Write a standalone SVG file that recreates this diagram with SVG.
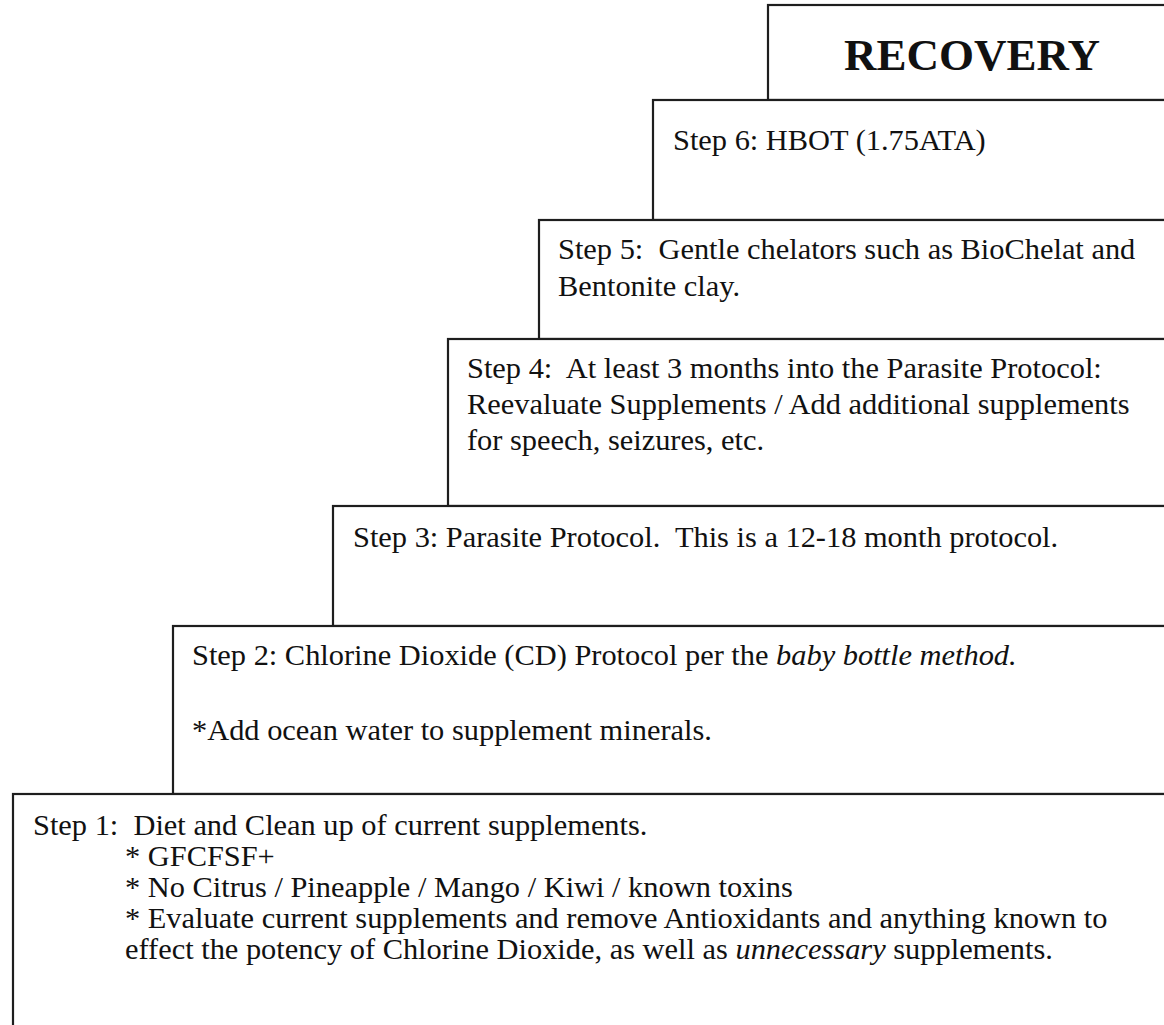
<svg xmlns="http://www.w3.org/2000/svg" width="1164" height="1025" viewBox="0 0 1164 1025">
<style>
.box{fill:#fff;stroke:#1e1e1e;stroke-width:2.2}
.t{font-family:"Liberation Serif","Times New Roman",serif;font-size:30.4px;fill:#111}
.h{font-family:"Liberation Serif","Times New Roman",serif;font-size:45px;font-weight:bold;fill:#111}
.i{font-style:italic}
</style>
<rect x="0" y="0" width="1164" height="1025" fill="#fff"/>
<g id="recovery">
<rect class="box" x="768" y="5" width="420" height="95"/>
<text class="h" x="972" y="70" text-anchor="middle">RECOVERY</text>
</g>
<g id="step6">
<rect class="box" x="653" y="100" width="540" height="120"/>
<text class="t" x="673" y="150">Step 6: HBOT (1.75ATA)</text>
</g>
<g id="step5">
<rect class="box" x="539" y="220" width="660" height="119"/>
<text class="t" x="558" y="259" xml:space="preserve">Step 5:  Gentle chelators such as BioChelat and</text>
<text class="t" x="558" y="296">Bentonite clay.</text>
</g>
<g id="step4">
<rect class="box" x="448" y="339" width="750" height="167"/>
<text class="t" x="467" y="378" xml:space="preserve">Step 4:  At least 3 months into the Parasite Protocol:</text>
<text class="t" x="467" y="414">Reevaluate Supplements / Add additional supplements</text>
<text class="t" x="467" y="450">for speech, seizures, etc.</text>
</g>
<g id="step3">
<rect class="box" x="333" y="506" width="870" height="120"/>
<text class="t" x="353" y="547" xml:space="preserve">Step 3: Parasite Protocol.  This is a 12-18 month protocol.</text>
</g>
<g id="step2">
<rect class="box" x="173" y="626" width="1030" height="168"/>
<text class="t" x="192" y="665" xml:space="preserve">Step 2: Chlorine Dioxide (CD) Protocol per the <tspan class="i">baby bottle method.</tspan></text>
<text class="t" x="192" y="740">*Add ocean water to supplement minerals.</text>
</g>
<g id="step1">
<rect class="box" x="13" y="794" width="1190" height="300"/>
<text class="t" x="33" y="835" xml:space="preserve">Step 1:  Diet and Clean up of current supplements.</text>
<text class="t" x="125" y="866">* GFCFSF+</text>
<text class="t" x="125" y="897">* No Citrus / Pineapple / Mango / Kiwi / known toxins</text>
<text class="t" x="125" y="928">* Evaluate current supplements and remove Antioxidants and anything known to</text>
<text class="t" x="125" y="959" xml:space="preserve">effect the potency of Chlorine Dioxide, as well as <tspan class="i">unnecessary</tspan> supplements.</text>
</g>
</svg>
